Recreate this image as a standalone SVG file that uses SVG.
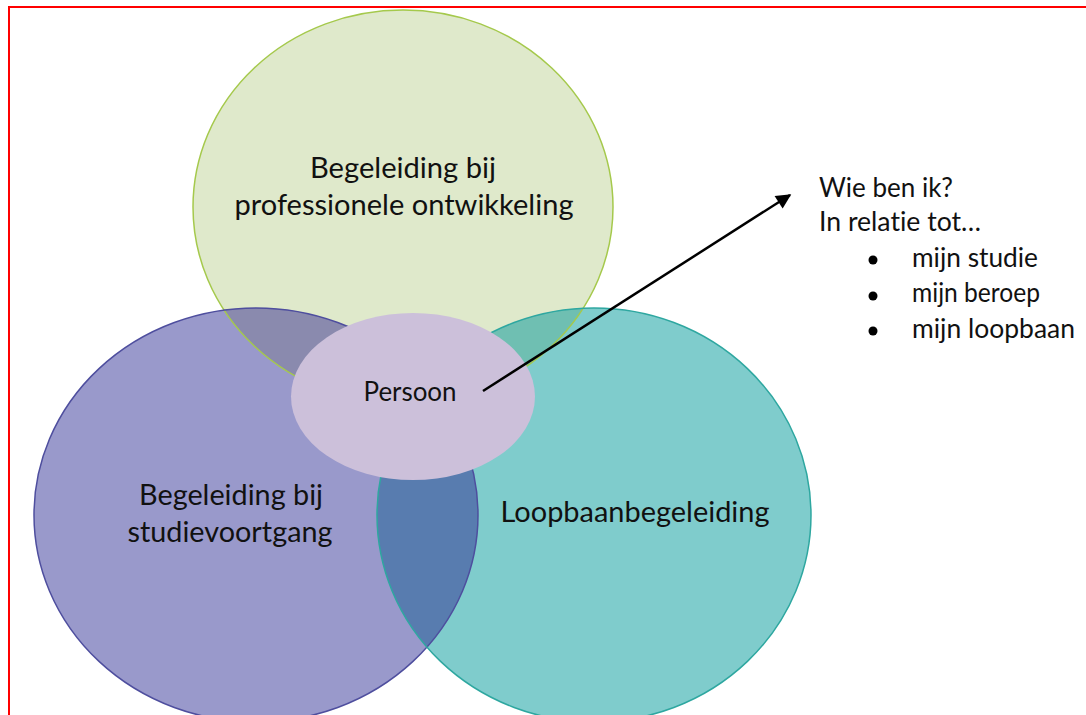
<svg xmlns="http://www.w3.org/2000/svg" width="1086" height="715" viewBox="0 0 1086 715">
<style>
text{font-variant-ligatures:none;font-feature-settings:"liga" 0,"clig" 0}
.lbl{font-family:Lato,"Liberation Sans",sans-serif;fill:#111;text-anchor:middle}
.big{font-size:28.5px}
.mid{font-size:26px}
.side{font-family:Lato,"Liberation Sans",sans-serif;fill:#111;font-size:26px}
.conn{stroke:#000;stroke-width:2.5;fill:none}
</style>
<defs>
<clipPath id="cG"><ellipse cx="403" cy="207" rx="210" ry="197"/></clipPath>
<clipPath id="cP"><ellipse cx="256" cy="515" rx="222" ry="207"/></clipPath>
<marker id="arr" viewBox="0 0 10 10" refX="9" refY="5" markerWidth="7" markerHeight="6" markerUnits="strokeWidth" orient="auto">
<path d="M0,0 L10,5 L0,10 z" fill="#000"/>
</marker>
</defs>
<rect x="0" y="0" width="1086" height="715" fill="#fff"/>
<rect x="9" y="7" width="1100" height="730" fill="none" stroke="#ff0000" stroke-width="2"/>

<g id="fills">
<ellipse cx="403" cy="207" rx="210" ry="197" fill="#dfe9cb"/>
<ellipse cx="256" cy="515" rx="222" ry="207" fill="#9999cb"/>
<ellipse cx="594" cy="515" rx="217" ry="207" fill="#7fcccc"/>
</g>
<g id="overlaps">
<ellipse cx="256" cy="515" rx="222" ry="207" fill="#8a8aae" clip-path="url(#cG)"/>
<ellipse cx="594" cy="515" rx="217" ry="207" fill="#6fbfb2" clip-path="url(#cG)"/>
<ellipse cx="594" cy="515" rx="217" ry="207" fill="#587caf" clip-path="url(#cP)"/>
</g>

<g id="node-professioneel">
<ellipse cx="403" cy="207" rx="210" ry="197" fill="none" stroke="#a5c94c" stroke-width="1.5"/>
<text class="lbl big" x="403" y="178" textLength="186" lengthAdjust="spacingAndGlyphs">Begeleiding bij</text>
<text class="lbl big" x="404" y="215" textLength="339" lengthAdjust="spacingAndGlyphs">professionele ontwikkeling</text>
</g>

<g id="node-studievoortgang">
<ellipse cx="256" cy="515" rx="222" ry="207" fill="none" stroke="#4e4e9e" stroke-width="1.5"/>
<text class="lbl big" x="231" y="505" textLength="184" lengthAdjust="spacingAndGlyphs">Begeleiding bij</text>
<text class="lbl big" x="230" y="542" textLength="205" lengthAdjust="spacingAndGlyphs">studievoortgang</text>
</g>

<g id="node-loopbaan">
<ellipse cx="594" cy="515" rx="217" ry="207" fill="none" stroke="#2ea7a0" stroke-width="1.5"/>
<text class="lbl big" x="635" y="522" textLength="269" lengthAdjust="spacingAndGlyphs">Loopbaanbegeleiding</text>
</g>

<g id="node-persoon">
<ellipse cx="413" cy="396.5" rx="122" ry="83.5" fill="#ccc0da"/>
<text class="lbl mid" x="410" y="401" textLength="93" lengthAdjust="spacingAndGlyphs">Persoon</text>
</g>

<g id="node-wie">
<text class="side" x="819" y="197" textLength="134" lengthAdjust="spacingAndGlyphs">Wie ben ik?</text>
<text class="side" x="819" y="231" textLength="162" lengthAdjust="spacingAndGlyphs">In relatie tot…</text>
<circle cx="873" cy="260" r="4.5"/>
<circle cx="873" cy="296" r="4.5"/>
<circle cx="873" cy="331" r="4.5"/>
<text class="side" x="912" y="267" textLength="126" lengthAdjust="spacingAndGlyphs">mijn studie</text>
<text class="side" x="912" y="302" textLength="128" lengthAdjust="spacingAndGlyphs">mijn beroep</text>
<text class="side" x="912" y="338" textLength="163" lengthAdjust="spacingAndGlyphs">mijn loopbaan</text>
</g>

<g id="connectors">
<line class="conn" x1="483" y1="391" x2="790" y2="195" marker-end="url(#arr)"/>
</g>
</svg>
